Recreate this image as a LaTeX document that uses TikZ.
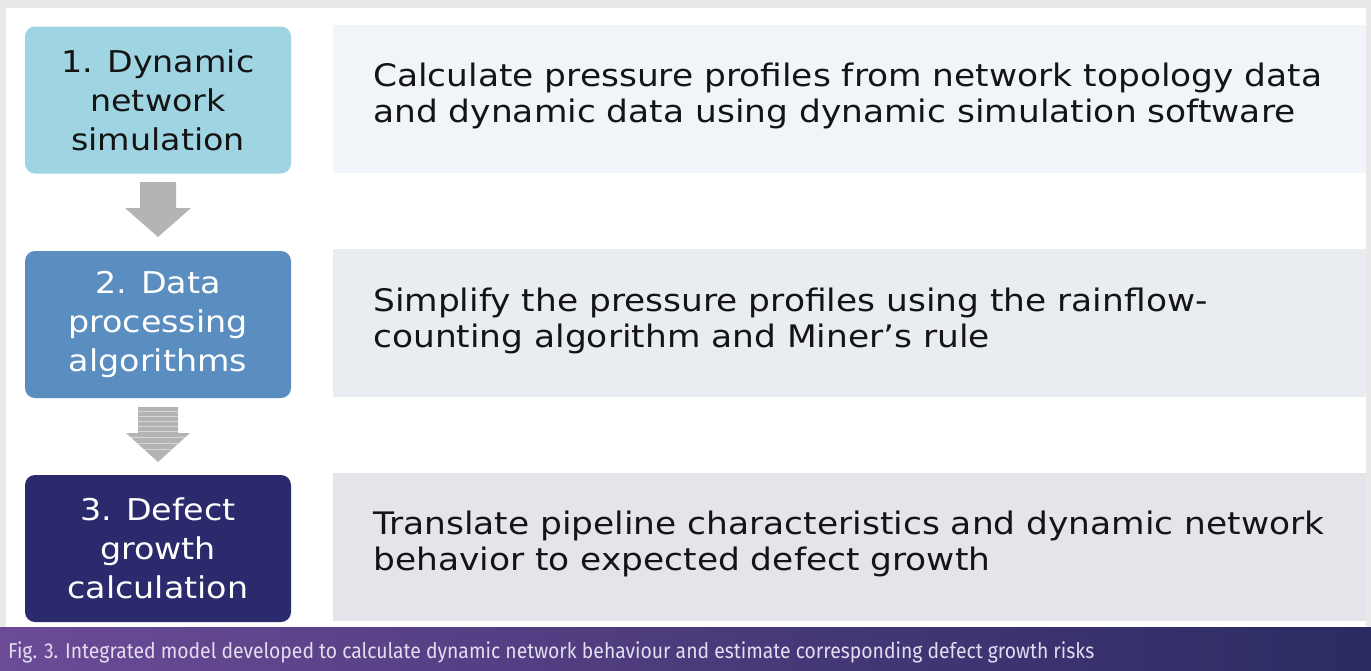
\documentclass[tikz,border=0pt]{standalone}
\usepackage{fontspec}
\setmainfont{DejaVu Sans}
\newfontfamily\verd[FakeStretch=1.11]{DejaVu Sans}
\newfontfamily\capfont{Fira Sans}
\definecolor{bggray}{HTML}{E8E9E8}
\definecolor{boxA}{HTML}{9FD5E2}
\definecolor{boxB}{HTML}{5A8EC0}
\definecolor{boxC}{HTML}{2B2A6C}
\definecolor{panA}{HTML}{F1F5F9}
\definecolor{panB}{HTML}{E9ECF1}
\definecolor{panC}{HTML}{E4E4EA}
\definecolor{arrgray}{HTML}{B4B4B4}
\definecolor{capL}{HTML}{6B4B96}
\definecolor{capR}{HTML}{2B2B63}
\definecolor{captxt}{HTML}{E4DCF0}
\definecolor{txt}{HTML}{141414}
\tikzset{
  stepbox/.style={rounded corners=10pt, minimum width=266pt, minimum height=147pt, inner sep=0pt, align=center, font=\verd\fontsize{30}{39}\selectfont},
  panel/.style={minimum width=1033pt, minimum height=148pt, inner sep=0pt},
  desc/.style={anchor=west, align=left, inner sep=0pt, font=\verd\fontsize{31}{36}\selectfont, text=txt},
}
\begin{document}
\begin{tikzpicture}[x=1pt,y=-1pt]
\useasboundingbox (0,0) rectangle (1371,670);
\fill[bggray] (0,0) rectangle (1371,670);
\fill[white] (6,8) rectangle (1366,627);
% panels
\node[panel, fill=panA] (p1) at (849.5,98.5) {};
\node[panel, fill=panB] (p2) at (849.5,323) {};
\node[panel, fill=panC] (p3) at (849.5,546.5) {};
% step boxes
\node[stepbox, fill=boxA, text=txt] (b1) at (158,100) {1. Dynamic\\network\\simulation};
\node[stepbox, fill=boxB, text=white] (b2) at (158,324.5) {2. Data\\processing\\algorithms};
\node[stepbox, fill=boxC, text=white] (b3) at (158,548.5) {3. Defect\\growth\\calculation};
% descriptions
\node[desc] (d1) at (373,96) {Calculate pressure profiles from network topology data\\and dynamic data using dynamic simulation software};
\node[desc] (d2) at (373,321) {Simplify the pressure profiles using the rainflow-\\counting algorithm and Miner’s rule};
\node[desc] (d3) at (373,544) {Translate pipeline characteristics and dynamic network\\behavior to expected defect growth};
% arrows
\fill[arrgray] (140,182) -- (176,182) -- (176,208) -- (191,208) -- (158,237) -- (125,208) -- (140,208) -- cycle;
\begin{scope}
\clip (138,407) -- (178,407) -- (178,433) -- (190,433) -- (158,462) -- (126,433) -- (138,433) -- cycle;
\fill[arrgray] (120,405) rectangle (195,465);
\foreach \yy in {411,416,421,426,431,437,443,449} \draw[white, opacity=0.45, line width=0.9pt] (120,\yy) -- (195,\yy);
\end{scope}
\coordinate (a1) at (158,182);
\coordinate (a2) at (158,407);
% caption bar
\shade[left color=capL, right color=capR] (0,627) rectangle (1371,670);
\node[anchor=west, inner sep=0pt, text=captxt, font=\capfont\fontsize{21.5}{24}\selectfont] (cap) at (8,652) {\scalebox{0.9}[1]{Fig. 3. Integrated model developed to calculate dynamic network behaviour and estimate corresponding defect growth risks}};
\end{tikzpicture}
\end{document}
